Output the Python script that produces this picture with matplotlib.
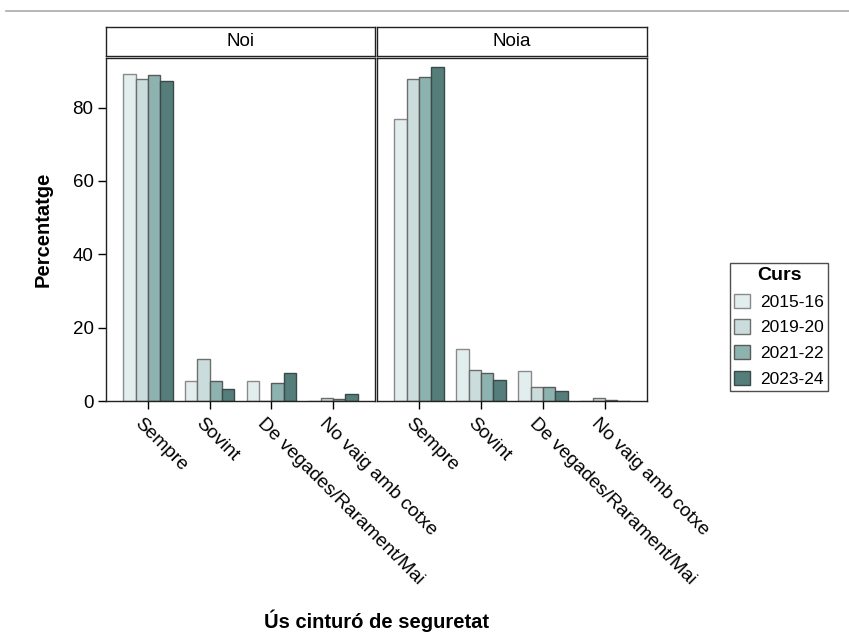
import matplotlib
matplotlib.use("Agg")
import matplotlib.pyplot as plt
import matplotlib.transforms as mtransforms
import numpy as np
from matplotlib.patches import Patch

plt.rcParams['font.family'] = ['Liberation Sans', 'DejaVu Sans']

categories = ["Sempre", "Sovint", "De vegades/Rarament/Mai", "No vaig amb cotxe"]
panels = ["Noi", "Noia"]
years = ["2015-16", "2019-20", "2021-22", "2023-24"]

noi = {
    "2015-16": [89.1, 5.5, 5.5, 0.0],
    "2019-20": [87.8, 11.4, 0.0, 0.7],
    "2021-22": [88.9, 5.5, 5.0, 0.5],
    "2023-24": [87.2, 3.4, 7.7, 1.8],
}
noia = {
    "2015-16": [76.8, 14.3, 8.3, 0.0],
    "2019-20": [87.7, 8.5, 3.9, 0.7],
    "2021-22": [88.4, 7.7, 3.7, 0.4],
    "2023-24": [91.0, 5.7, 2.8, 0.0],
}
data = [noi, noia]

colors = ["#e2eeee", "#cbdcdc", "#8db3b0", "#557d7a"]
edges = ["#8a8a8a", "#6e6e6e", "#5a5a5a", "#3a4a4a"]

W, H = 849, 641
fig = plt.figure(figsize=(W / 100, H / 100), dpi=100)

# top grey rule
fig.add_artist(plt.Line2D([6 / W, 1.0], [1 - 11 / H, 1 - 11 / H], color="#aaaaaa", lw=1.2))

panel_x = [(106, 375), (377, 647)]
top, bottom = 58, 401
strip_top, strip_bot = 27, 56

x = np.arange(len(categories))
bw = 0.2
for i, (name, d) in enumerate(zip(panels, data)):
    l, r = panel_x[i]
    ax = fig.add_axes([l / W, 1 - bottom / H, (r - l) / W, (bottom - top) / H])
    for j, y in enumerate(years):
        ax.bar(x + (j - 1.5) * bw, d[y], width=bw, color=colors[j],
               edgecolor=edges[j], linewidth=1.0, zorder=2)
    ax.set_xlim(-0.68, 3.68)
    ax.set_ylim(0, 93.5)
    ax.set_xticks(x)
    ax.set_xticklabels([])
    ax.tick_params(axis="x", length=6, width=1)
    trans = ax.get_xaxis_transform() + mtransforms.ScaledTranslation(-5 / 100, -14 / 100, fig.dpi_scale_trans)
    for xi, cat in zip(x, categories):
        ax.text(xi, 0, cat, transform=trans, rotation=-45, ha="left", va="top",
                rotation_mode="anchor", fontsize=13.8, clip_on=False)
    for s in ax.spines.values():
        s.set_linewidth(1.0)
        s.set_color("#222222")
    if i == 0:
        ax.set_yticks([0, 20, 40, 60, 80])
        ax.tick_params(axis="y", length=6, width=1, labelsize=13.5, pad=3)
        ax.set_ylabel("Percentatge", fontsize=14.5, fontweight="bold", labelpad=14)
    else:
        ax.set_yticks([])
    # strip
    sx = fig.add_axes([l / W, 1 - strip_bot / H, (r - l) / W, (strip_bot - strip_top) / H])
    sx.set_xticks([])
    sx.set_yticks([])
    for s in sx.spines.values():
        s.set_linewidth(1.0)
        s.set_color("#222222")
    sx.text(0.5, 0.5, name, ha="center", va="center", fontsize=13.5, transform=sx.transAxes)

fig.text(376 / W, 1 - 621 / H, "Ús cinturó de seguretat", ha="center", va="center",
         fontsize=14.5, fontweight="bold")

handles = [Patch(facecolor=c, edgecolor=e, linewidth=1.0) for c, e in zip(colors, edges)]
leg = fig.legend(handles, years, title="Curs", loc="center", bbox_to_anchor=(779 / W, 1 - 327 / H),
                 fontsize=12.5, title_fontproperties={"weight": "bold", "size": 14},
                 frameon=True, fancybox=False, edgecolor="#222222", handlelength=0.9,
                 handleheight=0.9, labelspacing=0.55, borderpad=0.25, handletextpad=0.6,
                 borderaxespad=0)
leg.get_frame().set_linewidth(1.0)

fig.savefig("out.png", dpi=100)
